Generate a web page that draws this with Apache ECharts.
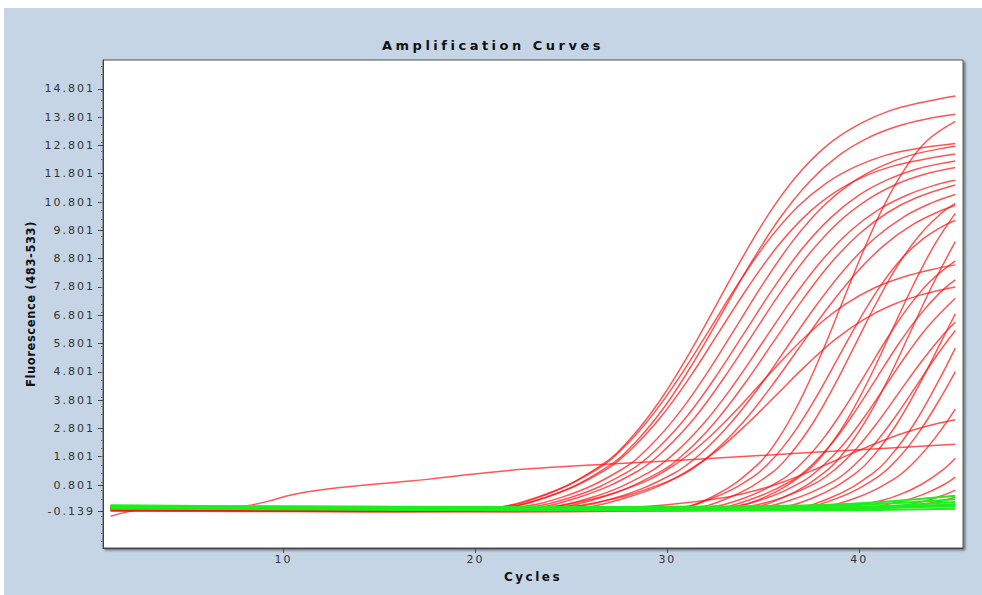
<!DOCTYPE html>
<html>
<head>
<meta charset="utf-8">
<title>Amplification Curves</title>
<script src="https://cdn.jsdelivr.net/npm/echarts@6.0.0/dist/echarts.min.js"></script>
<style>
  html, body { margin: 0; padding: 0; background: #fff; }
  #chart { position: absolute; left: 4px; top: 8px; width: 978px; height: 587px; }
  /* source screenshot is stretched sideways, so space the letters out */
  #chart text[style*="13px"] { letter-spacing: 3.5px; }
  #chart text[style*="12px"] { letter-spacing: 2.5px; }
  #chart text[style*="11.5px"] { letter-spacing: 0.6px; }
  #chart text[style*="11px"] { letter-spacing: 2px; }
</style>
</head>
<body>
<div id="chart"></div>
<script>
// axis ticks
const xTickValues = [10, 20, 30, 40]
const yTickValues = [-0.139, 0.801, 1.801, 2.801, 3.801, 4.801, 5.801, 6.801, 7.801, 8.801, 9.801, 10.801, 11.801, 12.801, 13.801, 14.801]

// red curves: [cycle, fluorescence]
const curveA1 = [[1,-0.02],[10,-0.05],[20.6,0],[23.6,0.44],[26.6,1.52],[28.1,2.46],[29.6,3.77],[31.1,5.40],[32.6,7.23],[34.1,9.06],[35.6,10.70],[37.1,12.0],[38.6,12.95],[40.1,13.59],[41.6,14.03],[43.1,14.30],[45,14.55]]
const curveA2 = [[1,0.03],[11,-0.04],[20.9,0],[23.9,0.42],[26.9,1.45],[28.4,2.36],[29.9,3.61],[31.4,5.18],[32.9,6.94],[34.4,8.70],[35.9,10.27],[37.4,11.52],[38.9,12.43],[40.4,13.05],[41.9,13.46],[43.4,13.72],[45,13.9]]
const curveA3 = [[1,-0.08],[9,-0.06],[20.3,-0.02],[23.3,0.39],[26.3,1.34],[27.8,2.18],[29.3,3.34],[30.8,4.79],[32.3,6.41],[33.8,8.03],[35.3,9.48],[36.8,10.64],[38.3,11.48],[39.8,12.05],[41.3,12.44],[42.8,12.67],[45,12.87]]
const curveA4 = [[1,0.0],[12,-0.1],[20.7,-0.04],[23.7,0.37],[26.7,1.30],[28.2,2.12],[29.7,3.24],[31.2,4.64],[32.7,6.22],[34.2,7.79],[35.7,9.20],[37.2,10.32],[38.7,11.13],[40.2,11.69],[41.7,12.06],[43.2,12.29],[45,12.5]]
const curveB0 = [[1,-0.04],[13,-0.08],[21.6,0],[24.6,0.39],[27.6,1.34],[29.1,2.18],[30.6,3.34],[32.1,4.79],[33.6,6.41],[35.1,8.03],[36.6,9.48],[38.1,10.64],[39.6,11.48],[41.1,12.05],[42.6,12.44],[44.1,12.67],[45,12.77]]
const curveB1 = [[1,0.02],[12,-0.03],[22,0],[25,0.37],[28,1.29],[29.5,2.10],[31,3.21],[32.5,4.61],[34,6.17],[35.5,7.73],[37,9.13],[38.5,10.24],[40,11.05],[41.5,11.60],[43,11.97],[45,12.25]]
const curveB2 = [[1,-0.1],[14,-0.12],[22.4,-0.03],[25.4,0.37],[28.4,1.27],[29.9,2.07],[31.4,3.16],[32.9,4.54],[34.4,6.07],[35.9,7.61],[37.4,8.98],[38.9,10.08],[40.4,10.87],[41.9,11.42],[43.4,11.78],[45,12.02]]
const curveB3 = [[1,0.04],[10,0.0],[23,0],[26,0.35],[29,1.23],[30.5,2.0],[32,3.06],[33.5,4.39],[35,5.88],[36.5,7.37],[38,8.70],[39.5,9.76],[41,10.53],[42.5,11.05],[44,11.41],[45,11.57]]
const curveB4 = [[1,-0.06],[15,-0.1],[23.5,-0.02],[26.5,0.35],[29.5,1.22],[31,1.98],[32.5,3.04],[34,4.36],[35.5,5.83],[37,7.31],[38.5,8.63],[40,9.68],[41.5,10.44],[43,10.96],[45,11.4]]
const curveC1 = [[1,0.01],[13,-0.05],[24.3,0],[27.3,0.35],[30.3,1.20],[31.8,1.95],[33.3,2.99],[34.8,4.28],[36.3,5.74],[37.8,7.19],[39.3,8.48],[40.8,9.52],[42.3,10.27],[43.8,10.78],[45,11.07]]
const curveC2 = [[1,-0.03],[16,-0.14],[24.8,-0.04],[27.8,0.34],[30.8,1.17],[32.3,1.90],[33.8,2.91],[35.3,4.18],[36.8,5.59],[38.3,7.01],[39.8,8.27],[41.3,9.28],[42.8,10.01],[44.3,10.51],[45,10.68]]
const curveD1 = [[1,0.0],[18,-0.1],[30.3,-0.02],[32.5,0.44],[34.7,1.52],[35.8,2.46],[36.9,3.77],[38,5.40],[39.1,7.23],[40.2,9.06],[41.3,10.70],[42.4,12.0],[43.5,12.95],[45,13.65]]
const curveD2 = [[1,0.05],[12,0.0],[22.8,0],[25.8,0.26],[28.8,0.91],[30.3,1.48],[31.8,2.26],[33.3,3.24],[34.8,4.34],[36.3,5.44],[37.8,6.42],[39.3,7.20],[40.8,7.77],[42.3,8.15],[43.8,8.42],[45,8.58]]
const curveD3 = [[1,-0.07],[14,-0.06],[23.7,0],[26.7,0.24],[29.7,0.84],[31.2,1.36],[32.7,2.08],[34.2,2.99],[35.7,4.0],[37.2,5.01],[38.7,5.92],[40.2,6.64],[41.7,7.16],[43.2,7.52],[45,7.8]]
const curveG1 = [[1,0.02],[17,-0.08],[30.1,-0.03],[32.3,0.32],[34.5,1.11],[35.6,1.80],[36.7,2.76],[37.8,3.96],[38.9,5.30],[40,6.64],[41.1,7.84],[42.2,8.80],[43.3,9.49],[44.4,9.97],[45,10.15]]
const curveG2 = [[1,-0.05],[15,-0.09],[31,-0.02],[33.2,0.35],[35.4,1.21],[36.5,1.97],[37.6,3.01],[38.7,4.32],[39.8,5.78],[40.9,7.25],[42,8.56],[43.1,9.60],[44.2,10.36],[45,10.75]]
const curveG3 = [[1,0.03],[14,-0.02],[31.6,0],[33.8,0.29],[36,1.01],[37.1,1.64],[38.2,2.51],[39.3,3.60],[40.4,4.82],[41.5,6.04],[42.6,7.13],[43.7,8.0],[45,8.72]]
const curveG4 = [[1,-0.1],[18,-0.13],[32.1,-0.05],[34.3,0.28],[36.5,0.96],[37.6,1.56],[38.7,2.38],[39.8,3.42],[40.9,4.58],[42,5.74],[43.1,6.77],[44.2,7.60],[45,8.05]]
const curveG5 = [[1,0.04],[19,-0.04],[32.6,0],[34.8,0.26],[37,0.91],[38.1,1.48],[39.2,2.26],[40.3,3.24],[41.4,4.34],[42.5,5.44],[43.6,6.42],[45,7.4]]
const curveG6 = [[1,0.01],[17,-0.03],[33.3,0],[35.5,0.25],[37.7,0.86],[38.8,1.39],[39.9,2.13],[41,3.06],[42.1,4.10],[43.2,5.13],[44.3,6.06],[45,6.55]]
const curveG7 = [[1,-0.04],[21,-0.12],[34.2,-0.03],[36.4,0.26],[38.6,0.91],[39.7,1.48],[40.8,2.26],[41.9,3.24],[43,4.34],[44.1,5.44],[45,6.26]]
const curveE1 = [[1,0.0],[16,-0.06],[32.9,0],[35.1,0.38],[37.3,1.31],[38.4,2.13],[39.5,3.26],[40.6,4.68],[41.7,6.27],[42.8,7.85],[43.9,9.27],[45,10.4]]
const curveE2 = [[1,-0.02],[20,-0.1],[33.9,-0.02],[36.1,0.38],[38.3,1.31],[39.4,2.13],[40.5,3.26],[41.6,4.68],[42.7,6.27],[43.8,7.85],[45,9.4]]
const curveE3 = [[1,0.02],[18,-0.07],[35.4,0],[37.6,0.35],[39.8,1.21],[40.9,1.97],[42,3.01],[43.1,4.32],[44.2,5.78],[45,6.85]]
const curveE4 = [[1,-0.08],[22,-0.1],[36.3,-0.02],[38.5,0.35],[40.7,1.21],[41.8,1.97],[42.9,3.01],[44,4.32],[45,5.64]]
const curveE5 = [[1,0.0],[20,-0.05],[36.6,0],[38.8,0.32],[41,1.11],[42.1,1.80],[43.2,2.76],[44.3,3.96],[45,4.81]]
const curveF1 = [[1,0.03],[24,-0.06],[37.4,0],[39.6,0.29],[41.8,1.01],[42.9,1.64],[44,2.51],[45,3.48]]
const curveF2 = [[1,-0.05],[16,-0.08],[27,-0.02],[30,0.10],[33,0.36],[34.5,0.59],[36,0.90],[37.5,1.30],[39,1.74],[40.5,2.17],[42,2.57],[43.5,2.88],[45,3.11]]
const curveF3 = [[1,0.0],[25,-0.08],[38.8,0],[41,0.23],[42.1,0.46],[43.2,0.81],[44.3,1.31],[45,1.75]]
const curveF4 = [[1,-0.06],[26,-0.1],[40,-0.02],[42.2,0.23],[43.3,0.46],[44.4,0.81],[45,1.08]]
const curveF5 = [[1,0.04],[28,-0.04],[41.2,0],[43.4,0.23],[44.45,0.46],[45,0.62]]
const curveF6 = [[1,-0.12],[22,-0.15],[38,-0.06],[42,0.02],[44,0.2],[45,0.38]]
const curveSlow = [[1,-0.3],[2.5,-0.08],[5,-0.02],[7,0.0],[8.3,0.09],[9.5,0.28],[10.4,0.45],[12.1,0.64],[14,0.78],[15.6,0.88],[17.5,1.0],[19,1.12],[21.5,1.3],[24.3,1.44],[27,1.54],[30,1.65],[34.8,1.84],[40,2.05],[45,2.24]]

// green (negative) curves
const green1 = [[1,0.06],[8,0.03],[16,0.0],[24,-0.02],[32,-0.01],[39,0.02],[45,0.1]]
const green2 = [[1,0.0],[8,-0.02],[16,-0.04],[24,-0.06],[32,-0.07],[39,-0.05],[45,0.12]]
const green3 = [[1,0.09],[8,0.05],[16,0.03],[24,0.02],[32,0.03],[39,0.08],[45,0.3]]
const green4 = [[1,-0.04],[8,-0.05],[16,-0.08],[24,-0.1],[32,-0.1],[39,-0.09],[45,-0.04]]
const green5 = [[1,0.03],[8,0.01],[16,-0.01],[24,0.0],[32,0.04],[39,0.12],[45,0.42]]
const green6 = [[1,0.05],[8,0.0],[16,-0.05],[24,-0.07],[32,-0.04],[39,0.0],[45,0.2]]
const green7 = [[1,0.02],[8,0.04],[16,0.02],[24,-0.03],[32,-0.06],[39,-0.03],[45,0.05]]

const redCurves = [curveA1, curveA2, curveA3, curveA4, curveB0, curveB1, curveB2, curveB3, curveB4,
  curveC1, curveC2, curveD1, curveD2, curveD3, curveG1, curveG2, curveG3, curveG4, curveG5, curveG6, curveG7,
  curveE1, curveE2, curveE3, curveE4, curveE5, curveF1, curveF2, curveF3, curveF4, curveF5, curveF6, curveSlow]
const greenCurves = [green1, green2, green3, green4, green5, green6, green7]

const font = 'DejaVu Sans'

const makeLine = (data, color, width) => ({
  type: 'line',
  data: data,
  smooth: 0.4,
  symbol: 'none',
  silent: true,
  lineStyle: { color: color, width: width }
})

const series = [
  ...redCurves.map(d => makeLine(d, 'rgba(255,20,20,0.72)', 1.5)),
  ...greenCurves.map(d => makeLine(d, '#1cef1c', 2))
]

const chart = echarts.init(document.getElementById('chart'), null, { renderer: 'svg' })

chart.setOption({
  animation: false,
  backgroundColor: '#c5d5e5',
  title: {
    text: 'Amplification Curves',
    left: 'center',
    top: 26,
    textStyle: { fontFamily: font, fontSize: 13, fontWeight: 'bold', color: '#111' }
  },
  grid: {
    left: 99, top: 52, right: 19, bottom: 47,
    show: true,
    backgroundColor: '#fff',
    borderColor: '#555',
    borderWidth: 1,
    shadowColor: 'rgba(0,0,0,0.45)',
    shadowBlur: 2,
    shadowOffsetX: 2,
    shadowOffsetY: 2,
    outerBoundsMode: 'none'
  },
  xAxis: {
    type: 'value',
    min: 0.6,
    max: 45.4,
    name: 'Cycles',
    nameLocation: 'middle',
    nameGap: 23,
    nameTextStyle: { fontFamily: font, fontSize: 12, fontWeight: 'bold', color: '#111' },
    axisLine: { show: true, onZero: false, lineStyle: { color: '#444' } },
    axisTick: { show: true, customValues: xTickValues, length: 5, lineStyle: { color: '#444' } },
    axisLabel: { customValues: xTickValues, fontFamily: font, fontSize: 11, color: '#333', margin: 6 },
    splitLine: { show: false }
  },
  yAxis: {
    type: 'value',
    min: -1.425,
    max: 15.82,
    name: 'Fluorescence (483-533)',
    nameLocation: 'middle',
    nameGap: 66,
    nameTextStyle: { fontFamily: font, fontSize: 11.5, fontWeight: 'bold', color: '#111' },
    axisLine: { show: true, onZero: false, lineStyle: { color: '#444' } },
    axisTick: { show: true, customValues: yTickValues, length: 5, lineStyle: { color: '#444' } },
    minorTick: { show: true, splitNumber: 10, length: 2, lineStyle: { color: '#777' } },
    axisLabel: {
      customValues: yTickValues,
      formatter: v => v.toFixed(3),
      fontFamily: font, fontSize: 11, color: '#333', margin: 8
    },
    splitLine: { show: false }
  },
  series: series
})
</script>
</body>
</html>
